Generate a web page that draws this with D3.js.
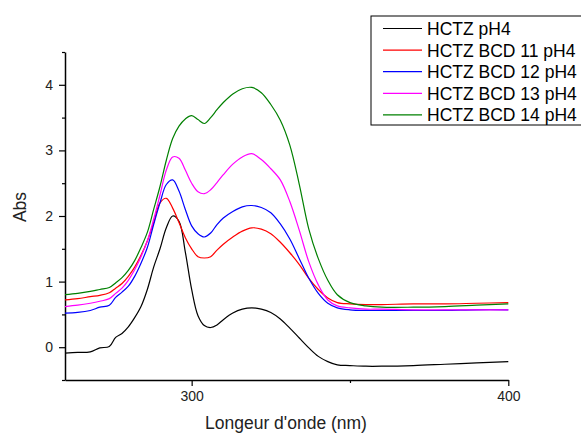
<!DOCTYPE html>
<html>
<head>
<meta charset="utf-8">
<script src="https://cdn.jsdelivr.net/npm/d3@7"></script>
<style>
  body { margin: 0; background: #fff; }
  svg { font-family: "Liberation Sans", Arial, sans-serif; }
</style>
</head>
<body>
<svg id="chart" width="581" height="435"></svg>
<script>
// wavelength grid (nm)
let wavelengths = [260, 264, 268, 271, 274, 276, 278, 280, 282, 284, 286, 288, 290, 292, 294, 296, 298, 300,
    302, 304, 306, 308, 310, 313, 316, 319, 322, 325, 328, 331, 334, 337, 340, 343, 346, 350, 355, 360,
    370, 380, 390, 400];

let hctz = [-0.09, -0.08, -0.07, -0.01, 0.01, 0.15, 0.21, 0.31, 0.45, 0.62, 0.88, 1.22, 1.50, 1.82, 2.00, 1.92,
    1.45, 0.88, 0.48, 0.33, 0.30, 0.34, 0.42, 0.52, 0.58, 0.60, 0.58, 0.53, 0.43, 0.29, 0.14, -0.01, -0.14,
    -0.22, -0.27, -0.28, -0.29, -0.29, -0.28, -0.26, -0.24, -0.22];

let bcd11 = [0.72, 0.74, 0.77, 0.79, 0.83, 0.90, 0.97, 1.08, 1.22, 1.40, 1.62, 1.90, 2.20, 2.27, 2.12, 1.90,
    1.67, 1.50, 1.38, 1.36, 1.38, 1.48, 1.57, 1.68, 1.77, 1.82, 1.80, 1.73, 1.60, 1.44, 1.26, 1.05, 0.88,
    0.75, 0.68, 0.66, 0.65, 0.65, 0.66, 0.66, 0.67, 0.68];

let bcd12 = [0.52, 0.53, 0.56, 0.61, 0.64, 0.76, 0.84, 0.93, 1.08, 1.28, 1.52, 1.87, 2.20, 2.48, 2.55, 2.38,
    2.10, 1.85, 1.73, 1.68, 1.74, 1.87, 1.97, 2.07, 2.14, 2.16, 2.13, 2.05, 1.88, 1.65, 1.35, 1.05, 0.82,
    0.67, 0.60, 0.57, 0.56, 0.56, 0.56, 0.56, 0.57, 0.57];

let bcd13 = [0.62, 0.64, 0.67, 0.70, 0.74, 0.82, 0.90, 1.02, 1.18, 1.38, 1.62, 1.95, 2.32, 2.70, 2.90, 2.88,
    2.70, 2.50, 2.37, 2.34, 2.40, 2.51, 2.63, 2.79, 2.90, 2.95, 2.86, 2.72, 2.55, 2.22, 1.78, 1.30, 0.95,
    0.72, 0.63, 0.60, 0.58, 0.58, 0.57, 0.57, 0.57, 0.57];

let bcd14 = [0.80, 0.82, 0.85, 0.88, 0.91, 0.98, 1.06, 1.17, 1.32, 1.52, 1.75, 2.10, 2.45, 2.85, 3.18, 3.37,
    3.48, 3.53, 3.47, 3.41, 3.50, 3.62, 3.73, 3.86, 3.94, 3.96, 3.88, 3.70, 3.46, 3.08, 2.48, 1.80, 1.35,
    1.02, 0.80, 0.68, 0.63, 0.61, 0.61, 0.62, 0.64, 0.66];

let seriesNames = ["HCTZ pH4", "HCTZ BCD 11 pH4", "HCTZ BCD 12 pH4", "HCTZ BCD 13 pH4", "HCTZ BCD 14 pH4"];
let seriesValues = [hctz, bcd11, bcd12, bcd13, bcd14];
let seriesColors = ["#000000", "#ff0000", "#0000ff", "#ff00ff", "#008000"];

let xTicks = [300, 400];
let xMinorTicks = [350];
let yTicks = [0, 1, 2, 3, 4];
let yMinorTicks = [-0.5, 0.5, 1.5, 2.5, 3.5, 4.5];

let chart = d3.select("#chart");

let plotLeft = 65, plotRight = 508.3, plotTop = 52, plotBottom = 380;

let xscale = d3.scaleLinear()
    .domain([260, 400])
    .range([plotLeft, plotRight]);

let yscale = d3.scaleLinear()
    .domain([-0.5, 4.5])
    .range([plotBottom, plotTop]);

// x axis
chart.append("g")
    .attr("transform", "translate(0," + plotBottom + ")")
    .call(d3.axisBottom(xscale).tickValues(xTicks).tickFormat(d3.format("d"))
        .tickSize(6).tickSizeOuter(0).tickPadding(5));
chart.append("g")
    .attr("transform", "translate(0," + plotBottom + ")")
    .call(d3.axisBottom(xscale).tickValues(xMinorTicks).tickSize(3).tickSizeOuter(0).tickFormat(""))
    .select(".domain").remove();

// y axis
chart.append("g")
    .attr("transform", "translate(" + plotLeft + ",0)")
    .call(d3.axisLeft(yscale).tickValues(yTicks).tickFormat(d3.format("d"))
        .tickSize(6).tickSizeOuter(0).tickPadding(6));
chart.append("g")
    .attr("transform", "translate(" + plotLeft + ",0)")
    .call(d3.axisLeft(yscale).tickValues(yMinorTicks).tickSize(3).tickSizeOuter(0).tickFormat(""))
    .select(".domain").remove();

chart.selectAll(".domain").attr("stroke-width", 1.5);
chart.selectAll(".tick line").attr("stroke-width", 1.2);
chart.selectAll(".tick text")
    .attr("font-size", 14)
    .attr("font-family", "Liberation Sans, Arial, sans-serif")
    .attr("fill", "#222");

// axis titles
chart.append("text")
    .attr("transform", "translate(26,207) rotate(-90)")
    .style("text-anchor", "middle")
    .attr("font-size", 17.5)
    .attr("fill", "#222")
    .text("Abs");

chart.append("text")
    .attr("x", 286)
    .attr("y", 429)
    .style("text-anchor", "middle")
    .attr("font-size", 17.5)
    .attr("fill", "#222")
    .text("Longeur d'onde (nm)");

// spectra
let line = d3.line()
    .x((d, i) => xscale(wavelengths[i]))
    .y(d => yscale(d))
    .curve(d3.curveCatmullRom.alpha(0.5));

chart.selectAll("path.spectrum")
    .data(seriesValues)
    .enter().append("path")
    .attr("class", "spectrum")
    .attr("fill", "none")
    .attr("stroke", (d, i) => seriesColors[i])
    .attr("stroke-width", 1.2)
    .attr("d", line);

// legend
let legend = chart.append("g");
legend.append("rect")
    .attr("x", 371)
    .attr("y", 16)
    .attr("width", 220)
    .attr("height", 109)
    .attr("fill", "#fff")
    .attr("stroke", "#000")
    .attr("stroke-width", 1);

let rows = legend.selectAll("g.row")
    .data(seriesNames)
    .enter().append("g")
    .attr("class", "row")
    .attr("transform", (d, i) => "translate(0," + (28.5 + i * 21.6) + ")");

rows.append("line")
    .attr("x1", 383)
    .attr("x2", 422)
    .attr("stroke", (d, i) => seriesColors[i])
    .attr("stroke-width", 1.2);

rows.append("text")
    .attr("x", 427)
    .attr("y", 6.5)
    .attr("font-size", 17.5)
    .attr("fill", "#000")
    .text(d => d);
</script>
</body>
</html>
